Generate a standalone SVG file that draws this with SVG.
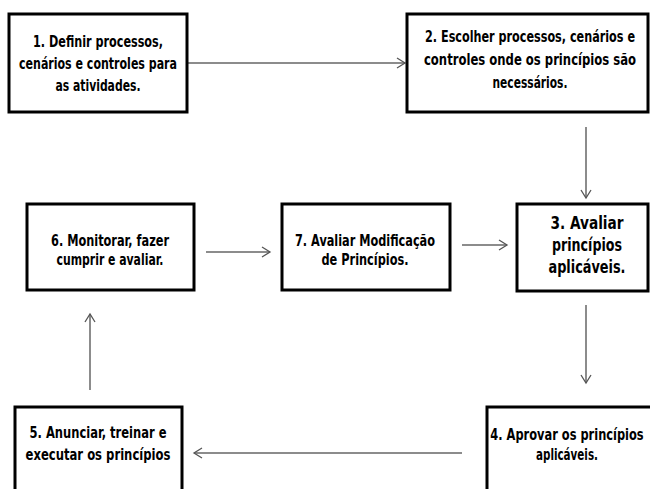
<svg xmlns="http://www.w3.org/2000/svg" width="650" height="489" viewBox="0 0 650 489">
  <defs>
    <marker id="arr" markerUnits="userSpaceOnUse" markerWidth="12" markerHeight="12" refX="9" refY="6" orient="auto">
      <path d="M1,1 L9,6 L1,11" fill="none" stroke="#555" stroke-width="1.3"/>
    </marker>
    <style>
      .box { fill: #fff; stroke: #000; stroke-width: 3; }
      .t { font-family: "Liberation Sans Narrow", "DejaVu Sans Condensed", "Liberation Sans", sans-serif; font-weight: bold; font-size: 16px; fill: #000; text-anchor: middle; }
      .c { fill: none; stroke: #666; stroke-width: 1.5; marker-end: url(#arr); }
    </style>
  </defs>
  <rect width="650" height="489" fill="#fff"/>
  <g id="connectors">
    <line class="c" x1="188" y1="63" x2="405" y2="63"/>
    <line class="c" x1="586" y1="127" x2="586" y2="198"/>
    <line class="c" x1="462" y1="245" x2="507" y2="245"/>
    <line class="c" x1="206" y1="252" x2="270" y2="252"/>
    <line class="c" x1="586" y1="305" x2="586" y2="383"/>
    <line class="c" x1="462" y1="453" x2="194" y2="453"/>
    <line class="c" x1="90" y1="390" x2="90" y2="314"/>
  </g>
  <g id="node1">
    <rect class="box" x="9" y="14" width="178" height="98"/>
    <text class="t" x="98" y="47" textLength="130" lengthAdjust="spacingAndGlyphs">1. Definir processos,</text>
    <text class="t" x="98" y="69" textLength="158" lengthAdjust="spacingAndGlyphs">cenários e controles para</text>
    <text class="t" x="98" y="91" textLength="85" lengthAdjust="spacingAndGlyphs">as atividades.</text>
  </g>
  <g id="node2">
    <rect class="box" x="407" y="14" width="241" height="98"/>
    <g transform="translate(530,0) scale(0.7,1)">
      <text class="t" x="0" y="42" textLength="300" lengthAdjust="spacingAndGlyphs">2. Escolher processos, cenários e</text>
      <text class="t" x="0" y="65" textLength="303" lengthAdjust="spacingAndGlyphs">controles onde os princípios são</text>
    </g>
    <text class="t" x="530" y="88" textLength="75" lengthAdjust="spacingAndGlyphs">necessários.</text>
  </g>
  <g id="node3">
    <rect class="box" x="517" y="204" width="131" height="87"/>
    <text class="t" x="587" y="229" textLength="73" lengthAdjust="spacingAndGlyphs" style="font-size:17px">3. Avaliar</text>
    <text class="t" x="587" y="251" textLength="70" lengthAdjust="spacingAndGlyphs" style="font-size:17px">princípios</text>
    <text class="t" x="587" y="273" textLength="77" lengthAdjust="spacingAndGlyphs" style="font-size:17px">aplicáveis.</text>
  </g>
  <g id="node4">
    <rect class="box" x="487" y="407" width="170" height="90"/>
    <g transform="translate(567,0) scale(0.7,1)">
      <text class="t" x="0" y="440" textLength="219" lengthAdjust="spacingAndGlyphs">4. Aprovar os princípios</text>
    </g>
    <text class="t" x="567" y="460" textLength="62" lengthAdjust="spacingAndGlyphs">aplicáveis.</text>
  </g>
  <g id="node5">
    <rect class="box" x="15" y="407" width="167" height="90"/>
    <text class="t" x="98" y="438" textLength="137" lengthAdjust="spacingAndGlyphs">5. Anunciar, treinar e</text>
    <text class="t" x="98" y="460" textLength="145" lengthAdjust="spacingAndGlyphs">executar os princípios</text>
  </g>
  <g id="node6">
    <rect class="box" x="27" y="204" width="167" height="86"/>
    <text class="t" x="110" y="246" textLength="118" lengthAdjust="spacingAndGlyphs">6. Monitorar, fazer</text>
    <text class="t" x="110" y="265" textLength="107" lengthAdjust="spacingAndGlyphs">cumprir e avaliar.</text>
  </g>
  <g id="node7">
    <rect class="box" x="282" y="204" width="168" height="86"/>
    <text class="t" x="365" y="246" textLength="140" lengthAdjust="spacingAndGlyphs">7. Avaliar Modificação</text>
    <text class="t" x="365" y="265" textLength="87" lengthAdjust="spacingAndGlyphs">de Princípios.</text>
  </g>
</svg>
